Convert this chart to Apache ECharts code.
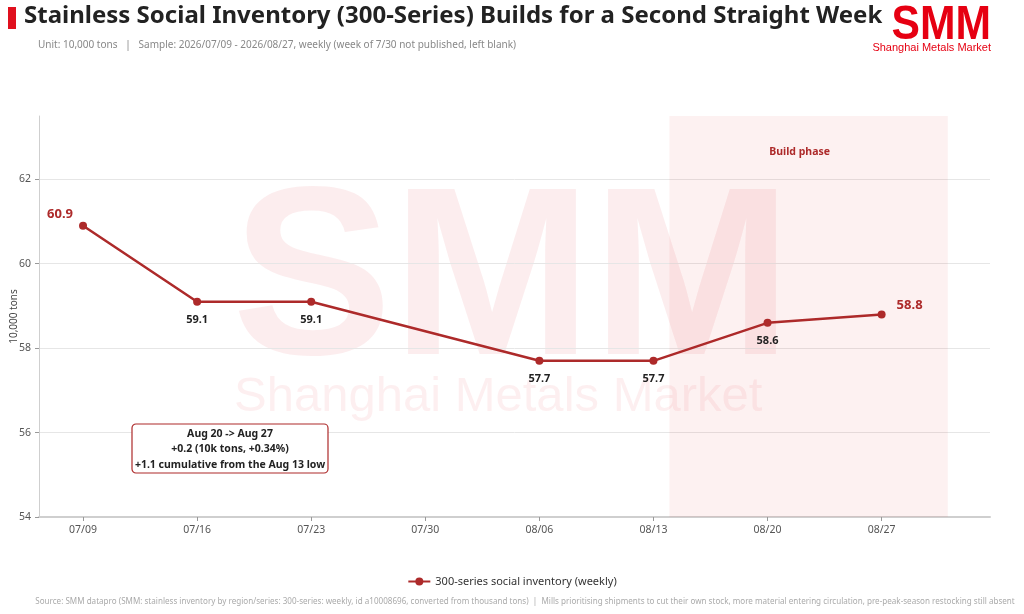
<!DOCTYPE html>
<html lang="en">
  <head>
    <meta charset="utf-8" />
    <title>Stainless Social Inventory (300-Series)</title>
    <style>
      * {
        margin: 0;
        padding: 0;
      }

      #chart-container {
        position: relative;
        width: 1024px;
        height: 614px;
        overflow: hidden;
        background: #fff;
      }
    </style>
  </head>

  <body>
    <div id="chart-container"></div>
    <script src="https://cdn.jsdelivr.net/npm/echarts@6.0.0/dist/echarts.min.js"></script>
    <script>
      // weekly categories (07/30 not published)
      var weeks = ["07/09", "07/16", "07/23", "07/30", "08/06", "08/13", "08/20", "08/27"];
      var inventory = [60.9, 59.1, 59.1, null, 57.7, 57.7, 58.6, 58.8];
      var yTicks = [54, 56, 58, 60, 62];
      // build phase shading, in week units (08/14 -> 08/31)
      var buildPhase = [5.14, 7.58];

      var red = "#ad2a2a";
      var font = "Noto Sans";

      var dom = document.getElementById("chart-container");
      var myChart = echarts.init(dom, null, { renderer: "canvas" });

      var points = [];
      inventory.forEach(function (v, i) {
        if (v == null) return;
        var first = i === 0;
        var last = i === inventory.length - 1;
        var label = {
          show: true,
          position: "bottom",
          distance: 9,
          color: "#222",
          fontWeight: "bold",
          fontSize: 11,
          fontFamily: font,
        };
        if (first) {
          label = Object.assign({}, label, { position: "left", offset: [0, -11], distance: 6, color: red, fontSize: 13 });
        }
        if (last) {
          label = Object.assign({}, label, { position: "right", offset: [0, -9], distance: 11, color: red, fontSize: 13 });
        }
        points.push({ value: [i, v], label: label });
      });

      var weekIdx = weeks.map(function (w, i) { return i; });

      var option = {
        animation: false,
        textStyle: { fontFamily: font },
        grid: {
          left: 39,
          right: 34,
          top: 116,
          bottom: 97,
          containLabel: false,
          outerBoundsMode: "none",
        },
        legend: {
          bottom: 22,
          left: "center",
          itemWidth: 22,
          itemHeight: 10,
          textStyle: { fontSize: 11, color: "#333", fontFamily: font },
          data: ["300-series social inventory (weekly)"],
        },
        xAxis: {
          type: "value",
          min: -0.386,
          max: 7.95,
          splitLine: { show: false },
          axisLine: { show: true, onZero: false, lineStyle: { color: "#cfcfcf", width: 2 } },
          axisTick: { show: true, customValues: weekIdx, length: 4, lineStyle: { color: "#999" } },
          axisLabel: {
            customValues: weekIdx,
            formatter: function (v) { return weeks[Math.round(v)]; },
            color: "#555",
            fontSize: 10.5,
            margin: 8,
          },
        },
        yAxis: {
          type: "value",
          min: 54,
          max: 63.5,
          name: "10,000 tons",
          nameLocation: "middle",
          nameGap: 20,
          nameMoveOverlap: false,
          nameTextStyle: { color: "#444", fontSize: 10 },
          axisLine: { show: true, onZero: false, lineStyle: { color: "#cfcfcf" } },
          axisTick: { show: true, customValues: yTicks, length: 4, lineStyle: { color: "#999" } },
          axisLabel: { customValues: yTicks, color: "#555", fontSize: 10.5, margin: 8 },
          splitLine: { show: true, lineStyle: { color: "#e6e6e6" } },
        },
        graphic: [
          { type: "rect", left: 8, top: 7, shape: { width: 8, height: 22 }, style: { fill: "#e0101e" } },
          {
            type: "text", left: 24, top: 4,
            style: { text: "Stainless Social Inventory (300-Series) Builds for a Second Straight Week", fill: "#222", font: "bold 24px 'Noto Sans'" },
          },
          {
            type: "text", left: 38, top: 40,
            style: { text: "Unit: 10,000 tons   |   Sample: 2026/07/09 - 2026/08/27, weekly (week of 7/30 not published, left blank)", fill: "#888", font: "10px 'Noto Sans'" },
          },
          // logo
          {
            type: "text", x: 991, y: 25, scaleX: 0.87,
            style: { text: "SMM", fill: "#e60012", font: "900 49px 'Liberation Sans'", align: "right", verticalAlign: "middle" },
          },
          {
            type: "text", x: 991, y: 48,
            style: { text: "Shanghai Metals Market", fill: "#e60012", font: "11px 'Liberation Sans'", align: "right", verticalAlign: "middle" },
          },
          // watermark
          {
            type: "text", left: 232, top: 168, z: -10, silent: true,
            style: { text: "SMM", fill: "rgba(225,50,60,0.085)", font: "900 240px 'Liberation Sans'" },
          },
          {
            type: "text", left: 234, top: 373, z: -10, silent: true,
            style: { text: "Shanghai Metals Market", fill: "rgba(225,50,60,0.08)", font: "49px 'Liberation Sans'" },
          },
          // annotation box
          {
            type: "group", x: 132, y: 424, z: 20,
            children: [
              { type: "rect", z: 20, shape: { width: 196, height: 49, r: 4 }, style: { fill: "#fff", stroke: red, lineWidth: 1.2 } },
              {
                type: "text", x: 98, y: 25.5, z: 21,
                style: {
                  text: "Aug 20 -> Aug 27\n+0.2 (10k tons, +0.34%)\n+1.1 cumulative from the Aug 13 low",
                  fill: "#222", font: "bold 10.5px 'Noto Sans'", lineHeight: 15.5,
                  align: "center", verticalAlign: "middle",
                },
              },
            ],
          },
          // footer
          {
            type: "text", x: 525, y: 602, scaleX: 0.94,
            style: {
              text: "Source: SMM datapro (SMM: stainless inventory by region/series: 300-series: weekly, id a10008696, converted from thousand tons)  |  Mills prioritising shipments to cut their own stock, more material entering circulation, pre-peak-season restocking still absent",
              fill: "#aaa", font: "8.6px 'Noto Sans'", align: "center", verticalAlign: "middle",
            },
          },
        ],
        series: [
          {
            name: "300-series social inventory (weekly)",
            type: "line",
            data: points,
            connectNulls: true,
            symbol: "circle",
            symbolSize: 8,
            z: 5,
            lineStyle: { color: red, width: 2.5 },
            itemStyle: { color: red },
            markArea: {
              silent: true,
              itemStyle: { color: "rgba(225,60,60,0.07)" },
              label: {
                show: true, position: "insideTop", distance: 31, offset: [-9, 0],
                color: red, fontWeight: "bold", fontSize: 10.5, fontFamily: font,
              },
              data: [[{ xAxis: buildPhase[0], name: "Build phase" }, { xAxis: buildPhase[1] }]],
            },
          },
        ],
      };

      myChart.setOption(option);
      window.addEventListener("resize", myChart.resize);
    </script>
  </body>
</html>
